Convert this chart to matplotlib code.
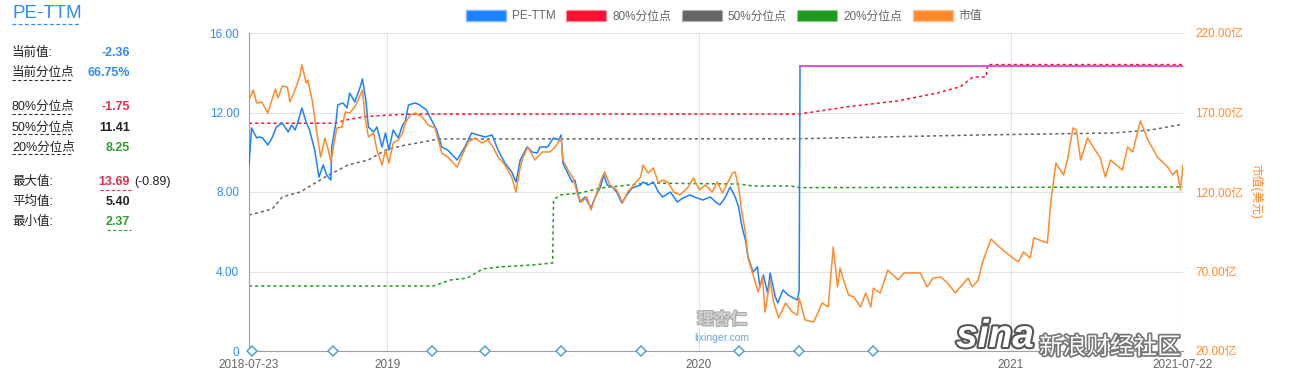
import matplotlib
matplotlib.use('Agg')
import matplotlib.pyplot as plt
import matplotlib.patheffects as pfx
from matplotlib.patches import Patch
from matplotlib.lines import Line2D
import pandas as pd

plt.rcParams['font.family'] = ['Liberation Sans', 'Noto Sans CJK SC', 'DejaVu Sans']

# ---- data ----
pe_dates = ['2018-07-23', '2018-07-26', '2018-08-01', '2018-08-04', '2018-08-08', '2018-08-14',
            '2018-08-19', '2018-08-24', '2018-08-31', '2018-09-07', '2018-09-11', '2018-09-15',
            '2018-09-18', '2018-09-23', '2018-09-28', '2018-10-02', '2018-10-08', '2018-10-13',
            '2018-10-18', '2018-10-22', '2018-10-27', '2018-10-28', '2018-11-02', '2018-11-04',
            '2018-11-10', '2018-11-15', '2018-11-18', '2018-11-24', '2018-11-30', '2018-12-03',
            '2018-12-07', '2018-12-10', '2018-12-16', '2018-12-20', '2018-12-26', '2018-12-30',
            '2019-01-03', '2019-01-08', '2019-01-14', '2019-01-19', '2019-01-22', '2019-01-26',
            '2019-02-03', '2019-02-08', '2019-02-16', '2019-02-22', '2019-02-28', '2019-03-06',
            '2019-03-13', '2019-03-24', '2019-04-02', '2019-04-10', '2019-04-17', '2019-04-26',
            '2019-05-04', '2019-05-11', '2019-05-19', '2019-05-27', '2019-06-01', '2019-06-06',
            '2019-06-14', '2019-06-20', '2019-06-26', '2019-06-29', '2019-07-08', '2019-07-15',
            '2019-07-21', '2019-07-24', '2019-07-26', '2019-07-31', '2019-08-06', '2019-08-09',
            '2019-08-15', '2019-08-21', '2019-08-24', '2019-08-28', '2019-09-02', '2019-09-08',
            '2019-09-12', '2019-09-16', '2019-09-22', '2019-09-27', '2019-10-03', '2019-10-09',
            '2019-10-15', '2019-10-25', '2019-10-28', '2019-11-03', '2019-11-09', '2019-11-15',
            '2019-11-20', '2019-11-29', '2019-12-07', '2019-12-14', '2019-12-22', '2019-12-30',
            '2020-01-06', '2020-01-15', '2020-01-21', '2020-01-26', '2020-02-01', '2020-02-07',
            '2020-02-13', '2020-02-17', '2020-02-21', '2020-02-25', '2020-02-28', '2020-03-05',
            '2020-03-10', '2020-03-13', '2020-03-17', '2020-03-22', '2020-03-25', '2020-03-31',
            '2020-04-03', '2020-04-09', '2020-04-15', '2020-04-21', '2020-04-26', '2020-04-28']
pe_vals = [9.36, 11.22, 10.72, 10.77, 10.72, 10.36,
           10.72, 11.27, 11.47, 11.02, 11.37, 11.12,
           11.47, 12.23, 11.52, 11.12, 10.11, 8.75,
           9.36, 8.86, 8.60, 10.26, 11.52, 12.38,
           12.48, 12.23, 12.98, 12.53, 13.23, 13.69,
           12.63, 11.27, 11.02, 11.27, 10.26, 10.97,
           10.11, 11.12, 10.72, 11.37, 11.52, 12.38,
           12.48, 12.38, 12.13, 11.62, 11.12, 10.26,
           10.11, 9.61, 10.26, 10.97, 10.87, 10.77,
           10.87, 10.11, 9.46, 9.01, 8.50, 9.61,
           10.26, 10.01, 9.96, 10.26, 10.26, 10.72,
           10.62, 10.87, 9.46, 9.01, 8.50, 8.60,
           7.50, 7.75, 7.50, 7.20, 7.75, 8.25,
           8.86, 8.35, 8.25, 8.00, 7.45, 7.85,
           8.20, 8.35, 8.50, 8.35, 8.50, 8.00,
           7.75, 8.00, 7.50, 7.70, 7.85, 7.70,
           7.60, 7.75, 7.50, 7.35, 7.70, 8.25,
           7.75, 7.25, 6.24, 5.58, 4.73, 3.97,
           4.23, 3.22, 3.82, 2.92, 3.92, 2.72,
           2.42, 3.07, 2.82, 2.67, 2.57, 3.07]
# negative PE after the jump is drawn pinned near the top of the axis
pe_neg_dates = ['2020-04-29', '2021-07-22']
pe_neg_level = 14.35

cap_dates = ['2018-07-23', '2018-07-28', '2018-08-01', '2018-08-07', '2018-08-14', '2018-08-23',
             '2018-08-26', '2018-08-31', '2018-09-06', '2018-09-09', '2018-09-15', '2018-09-21',
             '2018-09-23', '2018-09-28', '2018-09-30', '2018-10-05', '2018-10-10', '2018-10-15',
             '2018-10-20', '2018-10-24', '2018-10-27', '2018-10-30', '2018-11-03', '2018-11-09',
             '2018-11-13', '2018-11-18', '2018-11-24', '2018-11-28', '2018-12-03', '2018-12-06',
             '2018-12-10', '2018-12-16', '2018-12-20', '2018-12-26', '2018-12-30', '2019-01-03',
             '2019-01-08', '2019-01-14', '2019-01-19', '2019-01-22', '2019-01-28', '2019-02-03',
             '2019-02-11', '2019-02-18', '2019-02-26', '2019-03-06', '2019-03-13', '2019-03-24',
             '2019-03-31', '2019-04-06', '2019-04-14', '2019-04-22', '2019-04-29', '2019-05-05',
             '2019-05-11', '2019-05-19', '2019-05-27', '2019-06-01', '2019-06-06', '2019-06-09',
             '2019-06-15', '2019-06-23', '2019-07-02', '2019-07-11', '2019-07-17', '2019-07-24',
             '2019-07-26', '2019-08-01', '2019-08-07', '2019-08-13', '2019-08-17', '2019-08-23',
             '2019-08-28', '2019-09-04', '2019-09-10', '2019-09-13', '2019-09-19', '2019-09-27',
             '2019-10-04', '2019-10-10', '2019-10-19', '2019-10-25', '2019-10-28', '2019-11-03',
             '2019-11-09', '2019-11-15', '2019-11-20', '2019-11-26', '2019-12-03', '2019-12-10',
             '2019-12-19', '2019-12-26', '2020-01-02', '2020-01-09', '2020-01-17', '2020-01-23',
             '2020-01-29', '2020-02-04', '2020-02-10', '2020-02-13', '2020-02-17', '2020-02-21',
             '2020-02-25', '2020-02-28', '2020-03-05', '2020-03-11', '2020-03-16', '2020-03-19',
             '2020-03-25', '2020-03-29', '2020-04-04', '2020-04-12', '2020-04-20', '2020-04-26',
             '2020-04-28', '2020-05-05', '2020-05-15', '2020-05-25', '2020-06-01', '2020-06-07',
             '2020-06-12', '2020-06-15', '2020-06-19', '2020-06-25', '2020-07-01', '2020-07-09',
             '2020-07-15', '2020-07-21',
             '2020-07-24', '2020-08-01', '2020-08-10', '2020-08-22', '2020-08-29', '2020-09-17',
             '2020-09-25', '2020-10-02', '2020-10-11', '2020-10-19', '2020-10-28', '2020-11-12',
             '2020-11-17', '2020-11-24', '2020-11-29', '2020-12-09', '2020-12-20', '2021-01-02',
             '2021-01-10', '2021-01-16', '2021-01-24', '2021-01-28', '2021-02-13', '2021-02-17',
             '2021-02-23', '2021-03-04', '2021-03-09', '2021-03-15', '2021-03-19', '2021-03-24',
             '2021-04-01', '2021-04-16', '2021-04-22', '2021-04-28', '2021-05-12', '2021-05-18',
             '2021-05-24', '2021-06-02', '2021-06-11', '2021-06-22', '2021-07-04', '2021-07-10',
             '2021-07-15', '2021-07-19', '2021-07-22']
cap_vals = [177.9, 184.2, 176.0, 176.6, 169.7, 184.8,
            179.1, 186.7, 186.0, 176.6, 184.2, 193.6,
            199.9, 188.6, 190.4, 177.9, 159.0, 142.0,
            154.0, 146.4, 138.9, 148.3, 160.3, 160.9,
            170.3, 169.7, 173.5, 177.9, 184.2, 167.2,
            154.6, 157.1, 146.4, 137.0, 146.4, 138.2,
            150.8, 152.7, 157.1, 163.4, 168.4, 169.7,
            167.2, 162.1, 160.3, 144.5, 142.0, 135.7,
            144.5, 151.4, 154.0, 150.8, 152.7, 148.3,
            142.0, 137.0, 129.4, 120.0, 135.7, 141.4,
            148.3, 140.1, 145.2, 145.2, 148.3, 154.0,
            140.1, 133.8, 128.8, 116.9, 113.7, 116.9,
            108.7, 120.0, 129.4, 132.6, 124.4, 121.3,
            113.1, 120.0, 125.7, 129.4, 137.0, 132.0,
            135.1, 125.7, 127.5, 126.3, 120.0, 118.1,
            122.5, 128.8, 121.3, 124.4, 120.0, 126.3,
            119.4, 125.7, 132.0, 132.6, 122.5, 106.8,
            94.2, 78.5, 67.8, 57.1, 66.5, 44.5,
            64.7, 50.8, 40.8, 50.2, 44.5, 42.6,
            53.3, 39.5, 38.2, 50.2, 47.7, 85.4,
            60.3, 72.2, 64.7, 55.2, 54.0, 47.7,
            56.5, 47.7,
            59.6, 56.5, 70.9, 64.7, 69.1, 69.1,
            60.3, 65.9, 66.5, 62.8, 56.5, 65.9,
            60.3, 64.7, 76.0, 90.4, 84.8, 79.1,
            76.0, 82.3, 78.5, 91.1, 87.9, 113.7,
            138.2, 130.7, 141.4, 160.3, 159.0, 140.1,
            154.0, 141.4, 129.4, 140.1, 133.8, 148.3,
            145.2, 164.7, 152.7, 142.0, 135.7, 130.7,
            133.8, 121.3, 137.0]

p80_dates = ['2018-07-23', '2018-11-01', '2018-11-13', '2018-12-06', '2019-01-01', '2019-01-30',
             '2020-04-28', '2020-06-24', '2020-08-21', '2020-10-07', '2020-11-03', '2020-11-18',
             '2020-12-03', '2020-12-05', '2021-07-22']
p80_vals = [11.46, 11.46, 11.62, 11.79, 11.87, 11.92,
            11.92, 12.29, 12.58, 12.98, 13.30, 13.79,
            13.79, 14.41, 14.41]

p50_dates = ['2018-07-23', '2018-08-19', '2018-08-31', '2018-09-21', '2018-10-20', '2018-11-16',
             '2018-12-10', '2018-12-30', '2019-01-22', '2019-02-13', '2019-03-02', '2020-04-28',
             '2020-08-26', '2020-11-27', '2021-05-02', '2021-06-14', '2021-07-22']
p50_vals = [6.84, 7.14, 7.75, 8.00, 8.75, 9.36,
            9.61, 10.11, 10.36, 10.52, 10.67, 10.68,
            10.79, 10.87, 10.97, 11.12, 11.41]

p20_dates = ['2018-07-23', '2019-02-24', '2019-03-16', '2019-04-05', '2019-04-23', '2019-05-13',
             '2019-06-21', '2019-07-14', '2019-07-15', '2019-07-23', '2019-08-15', '2019-09-08',
             '2019-11-02', '2020-02-18', '2020-03-05', '2020-04-18', '2020-04-29', '2021-07-22']
p20_vals = [3.27, 3.27, 3.57, 3.67, 4.13, 4.23,
            4.33, 4.43, 7.60, 7.85, 7.95, 8.20,
            8.45, 8.40, 8.30, 8.30, 8.22, 8.25]

report_dates = ['2018-07-26', '2018-10-29', '2019-02-22', '2019-04-26', '2019-07-24',
                '2019-10-25', '2020-02-18', '2020-04-28', '2020-07-24', '2021-02-16']

xtick_dates = ['2018-07-23', '2019-01-01', '2020-01-01', '2021-01-01', '2021-07-22']
xtick_labels = ['2018-07-23', '2019', '2020', '2021', '2021-07-22']
pe_ticks = [0, 4, 8, 12, 16]
pe_tick_labels = ['0', '4.00', '8.00', '12.00', '16.00']
cap_ticks = [20, 70, 120, 170, 220]
cap_tick_labels = ['20.00亿', '70.00亿', '120.00亿', '170.00亿', '220.00亿']

stats_labels = ['当前值:', '当前分位点', '80%分位点', '50%分位点', '20%分位点', '最大值:', '平均值:', '最小值:']
stats_values = ['-2.36', '66.75%', '-1.75', '11.41', '8.25', '13.69', '5.40', '2.37']

BLUE = '#1a82ff'
RED = '#ff1030'
GRAY = '#666666'
GREEN = '#1f9a1f'
ORANGE = '#ff8a2b'
PINK = '#f046f0'

W, H = 1296, 383


def fx(px):
    return px / W


def fy(py):
    return 1 - py / H


def main():
    d = pd.to_datetime
    fig = plt.figure(figsize=(W / 100, H / 100), dpi=100)
    ax = fig.add_axes([fx(249), fy(351), (1183 - 249) / W, 318 / H])
    ax2 = ax.twinx()

    # percentile lines
    ax.plot(d(p80_dates), p80_vals, color=RED, lw=1.1, ls=(0, (2, 2)), zorder=2)
    ax.plot(d(p50_dates), p50_vals, color=GRAY, lw=1.1, ls=(0, (2, 2)), zorder=2)
    ax.plot(d(p20_dates), p20_vals, color=GREEN, lw=1.1, ls=(0, (2, 2)), zorder=2)

    # PE line + jump to the pinned negative level
    ax.plot(d(pe_dates + [pe_neg_dates[0]]), pe_vals + [pe_neg_level], color=BLUE, lw=1.1, zorder=3)
    ax.plot(d(pe_neg_dates), [pe_neg_level] * 2, color=PINK, lw=1.4, zorder=3)

    # report markers
    ax.plot(d(report_dates), [0] * len(report_dates), 'D', ms=5, mfc='white', mec='#5aa2c6',
            mew=1.1, clip_on=False, zorder=6)

    # market cap
    ax2.plot(d(cap_dates), cap_vals, color=ORANGE, lw=1.1, zorder=3)

    ax.set_xlim(d('2018-07-23'), d('2021-07-22'))
    ax.set_ylim(0, 16)
    ax2.set_ylim(20, 220)

    ax.set_xticks(d(xtick_dates))
    ax.set_xticklabels(xtick_labels, color=GRAY, fontsize=8.5)
    ax.set_yticks(pe_ticks)
    ax.set_yticklabels(pe_tick_labels, color='#2f8cf0', fontsize=8.5)
    ax2.set_yticks(cap_ticks)
    ax2.set_yticklabels(cap_tick_labels, color=ORANGE, fontsize=8.5)
    ax.tick_params(axis='both', length=0, pad=7)
    ax.tick_params(axis='x', pad=6)
    ax2.tick_params(axis='y', length=0, pad=9)
    ax.grid(True, color='#e3e3e3', lw=0.8, zorder=0)
    ax2.set_ylabel('市值(美元)', color=ORANGE, fontsize=8.5, rotation=270, labelpad=14)

    for s in ['top', 'right']:
        ax.spines[s].set_visible(False)
    for s in ax2.spines:
        ax2.spines[s].set_visible(False)
    ax.spines['left'].set_color('#a0a0a0')
    ax.spines['bottom'].set_color('#a0a0a0')

    # legend
    handles = [Patch(facecolor=BLUE, edgecolor='#7fb8ff'),
               Patch(facecolor=RED, edgecolor='#ff8090', ls=':'),
               Patch(facecolor=GRAY, edgecolor='#aaaaaa', ls=':'),
               Patch(facecolor=GREEN, edgecolor='#7fcf7f', ls=':'),
               Patch(facecolor=ORANGE, edgecolor='#ffc090')]
    labels = ['PE-TTM', '80%分位点', '50%分位点', '20%分位点', '市值']
    fig.legend(handles, labels, loc='center', bbox_to_anchor=(fx(724), fy(16)), ncol=5,
               frameon=False, fontsize=8.5, labelcolor=GRAY, handlelength=3.4, handleheight=1.1,
               handletextpad=0.5, columnspacing=0.9)

    # left panel
    fig.text(fx(12), fy(13), 'PE-TTM', color='#2f8cf0', fontsize=13.5, va='center')
    fig.add_artist(Line2D([fx(12), fx(80)], [fy(24), fy(24)], color='#2f8cf0', lw=0.9, ls=(0, (3, 2))))
    rows_y = [53, 73, 107, 128, 148, 182, 202, 222]
    val_colors = ['#2f8cf0', '#2f8cf0', '#e0304a', '#222222', '#2e9e2e', '#e0304a', '#222222', '#2e9e2e']
    for lab, val, yy, c in zip(stats_labels, stats_values, rows_y, val_colors):
        fig.text(fx(12), fy(yy), lab, fontsize=9, color='#222222', va='center')
        fig.text(fx(130), fy(yy), val, fontsize=9, color=c, va='center', ha='right', weight='bold')
    for yy in [80, 114, 134, 154]:
        fig.add_artist(Line2D([fx(12), fx(72)], [fy(yy), fy(yy)], color='#333333', lw=0.8, ls=(0, (3, 2))))
    fig.add_artist(Line2D([fx(100), fx(131)], [fy(190), fy(190)], color='#e0304a', lw=0.8, ls=(0, (3, 2))))
    fig.add_artist(Line2D([fx(107), fx(131)], [fy(230), fy(230)], color='#2e9e2e', lw=0.8, ls=(0, (3, 2))))
    fig.text(fx(134), fy(182), '(-0.89)', fontsize=9, color='#222222', va='center')

    # watermarks
    fig.text(fx(722), fy(320), '理杏仁', fontsize=12, color='#d0d0d0', ha='center', va='center',
             weight='bold', path_effects=[pfx.withStroke(linewidth=1.5, foreground='#aaaaaa')])
    fig.text(fx(722), fy(338), 'lixinger.com', fontsize=7.5, color='#6aa6e0', ha='center', va='center')
    fig.text(fx(995), fy(337), 'sina', fontsize=28, color='white', ha='center', va='center',
             weight='bold', style='italic',
             path_effects=[pfx.withStroke(linewidth=3, foreground='#555555')])
    fig.text(fx(1110), fy(348), '新浪财经社区', fontsize=17, color='white', ha='center', va='center',
             path_effects=[pfx.withStroke(linewidth=2.5, foreground='#777777')])

    fig.savefig('out.png', dpi=100)


if __name__ == '__main__':
    main()
